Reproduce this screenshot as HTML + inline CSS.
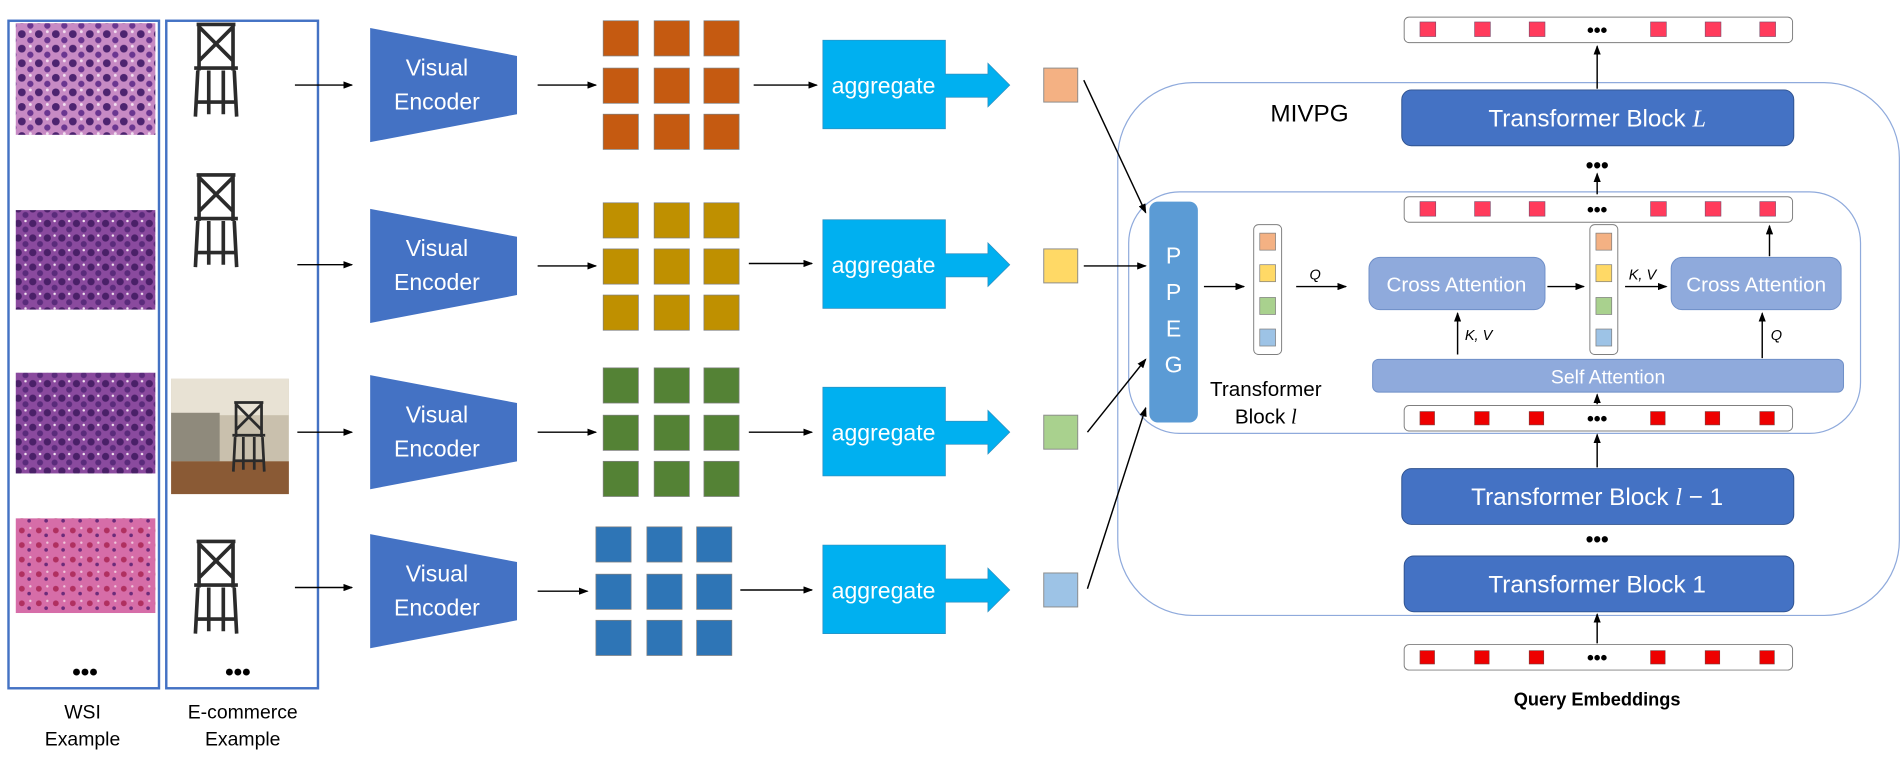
<!DOCTYPE html>
<html><head><meta charset="utf-8"><style>
html,body{margin:0;padding:0;background:#fff;}
svg{display:block;}
text{font-family:"Liberation Sans","DejaVu Sans",sans-serif;}
</style></head><body>
<svg width="1903" height="760" viewBox="0 0 1568 626" xmlns="http://www.w3.org/2000/svg">
<defs>
<marker id="a" markerWidth="8" markerHeight="6" refX="7" refY="3" orient="auto" markerUnits="userSpaceOnUse"><path d="M0,0 L8,3 L0,6 z" fill="#000"/></marker>
<pattern id="t1" width="14" height="12" patternUnits="userSpaceOnUse"><rect width="14" height="12" fill="#c78ac4"/><circle cx="4" cy="4" r="3.2" fill="#4d2470"/><circle cx="11" cy="9" r="2.6" fill="#6a3690"/><circle cx="11" cy="2" r="1.2" fill="#f2dff0"/></pattern>
<pattern id="t2" width="12" height="12" patternUnits="userSpaceOnUse"><rect width="12" height="12" fill="#8a4a9e"/><circle cx="3" cy="4" r="3" fill="#4a2068"/><circle cx="9" cy="9" r="2.5" fill="#5a2b7b"/><circle cx="9" cy="2" r="1" fill="#f4e6f2"/></pattern>
<pattern id="t3" width="14" height="12" patternUnits="userSpaceOnUse"><rect width="14" height="12" fill="#d66da8"/><circle cx="4" cy="5" r="2.4" fill="#b03060"/><circle cx="10" cy="9" r="1.5" fill="#6b2b7a"/><circle cx="11" cy="3" r="1" fill="#f0c8dc"/></pattern>
<g id="chair" fill="none" stroke="#2b2b2b" stroke-width="3">
<path d="M-16,-38 L16,-38 M-14,-38 L-14,0 M14,-38 L14,0 M-14,-36 L14,-8 M14,-36 L-14,-8 M-18,-2 L18,-2 M-15,0 L-17,38 M15,0 L17,38 M-6,0 L-6,36 M6,0 L6,36 M-16,26 L16,26"/>
</g>
</defs>

<rect x="7" y="17" width="124" height="550" fill="#fff" stroke="#4472C4" stroke-width="2"/>
<rect x="137" y="17" width="125" height="550" fill="#fff" stroke="#4472C4" stroke-width="2"/>
<rect x="13" y="19" width="115" height="92" fill="url(#t1)"/>
<rect x="13" y="173" width="115" height="82" fill="url(#t2)"/>
<rect x="13" y="307" width="115" height="83" fill="url(#t2)"/>
<rect x="13" y="427" width="115" height="78" fill="url(#t3)"/>
<text x="70" y="560" font-size="20" text-anchor="middle" font-weight="bold">•••</text>
<text x="196" y="560" font-size="20" text-anchor="middle" font-weight="bold">•••</text>
<text x="68" y="592" font-size="16" text-anchor="middle">WSI</text>
<text x="68" y="614" font-size="16" text-anchor="middle">Example</text>
<text x="200" y="592" font-size="16" text-anchor="middle">E-commerce</text>
<text x="200" y="614" font-size="16" text-anchor="middle">Example</text>
<use href="#chair" x="178" y="58"/>
<use href="#chair" x="178" y="182"/>
<rect x="141" y="312" width="97" height="95" fill="#c9c0ad"/>
<rect x="141" y="312" width="97" height="30" fill="#e8e2d4"/>
<rect x="141" y="340" width="40" height="40" fill="#8f8a7c"/>
<rect x="141" y="380" width="97" height="27" fill="#8a5a35"/>
<use href="#chair" x="205" y="360" transform="translate(205 360) scale(0.75) translate(-205 -360)"/>
<use href="#chair" x="178" y="484"/>

<g stroke="#000" stroke-width="1.2" marker-end="url(#a)">
<line x1="243" y1="70" x2="290" y2="70"/>
<line x1="245" y1="218" x2="290" y2="218"/>
<line x1="245" y1="356" x2="290" y2="356"/>
<line x1="243" y1="484" x2="290" y2="484"/>
</g>

<g id="r1">
<polygon points="305,23 426,46 426,94 305,117" fill="#4472C4"/>
<text x="360" y="62" font-size="19" fill="#fff" text-anchor="middle">Visual</text>
<text x="360" y="90" font-size="19" fill="#fff" text-anchor="middle">Encoder</text>
</g>
<use href="#r1" y="149"/>
<use href="#r1" y="286"/>
<use href="#r1" y="417"/>

<g stroke="#000" stroke-width="1.2" marker-end="url(#a)">
<line x1="443" y1="70" x2="491" y2="70"/>
<line x1="443" y1="219" x2="491" y2="219"/>
<line x1="443" y1="356" x2="491" y2="356"/>
<line x1="443" y1="487" x2="484" y2="487"/>
<line x1="621" y1="70" x2="673" y2="70"/>
<line x1="617" y1="217" x2="669" y2="217"/>
<line x1="617" y1="356" x2="669" y2="356"/>
<line x1="610" y1="486" x2="669" y2="486"/>
</g>

<g stroke="#7f7f7f" stroke-width="0.6">
<g fill="#C55A11">
<rect x="497" y="17" width="29" height="29"/><rect x="539" y="17" width="29" height="29"/><rect x="580" y="17" width="29" height="29"/>
<rect x="497" y="56" width="29" height="29"/><rect x="539" y="56" width="29" height="29"/><rect x="580" y="56" width="29" height="29"/>
<rect x="497" y="94" width="29" height="29"/><rect x="539" y="94" width="29" height="29"/><rect x="580" y="94" width="29" height="29"/>
</g>
<g fill="#BF9000">
<rect x="497" y="167" width="29" height="29"/><rect x="539" y="167" width="29" height="29"/><rect x="580" y="167" width="29" height="29"/>
<rect x="497" y="205" width="29" height="29"/><rect x="539" y="205" width="29" height="29"/><rect x="580" y="205" width="29" height="29"/>
<rect x="497" y="243" width="29" height="29"/><rect x="539" y="243" width="29" height="29"/><rect x="580" y="243" width="29" height="29"/>
</g>
<g fill="#548235">
<rect x="497" y="303" width="29" height="29"/><rect x="539" y="303" width="29" height="29"/><rect x="580" y="303" width="29" height="29"/>
<rect x="497" y="342" width="29" height="29"/><rect x="539" y="342" width="29" height="29"/><rect x="580" y="342" width="29" height="29"/>
<rect x="497" y="380" width="29" height="29"/><rect x="539" y="380" width="29" height="29"/><rect x="580" y="380" width="29" height="29"/>
</g>
<g fill="#2E75B6">
<rect x="491" y="434" width="29" height="29"/><rect x="533" y="434" width="29" height="29"/><rect x="574" y="434" width="29" height="29"/>
<rect x="491" y="473" width="29" height="29"/><rect x="533" y="473" width="29" height="29"/><rect x="574" y="473" width="29" height="29"/>
<rect x="491" y="511" width="29" height="29"/><rect x="533" y="511" width="29" height="29"/><rect x="574" y="511" width="29" height="29"/>
</g>
</g>

<g id="ag">
<path d="M678,33 L779,33 L779,61 L814,61 L814,52 L832,70 L814,88 L814,80 L779,80 L779,106 L678,106 z" fill="#00B0F0" stroke="#2e8fc0" stroke-width="0.6"/>
<text x="728" y="77" font-size="19" fill="#fff" text-anchor="middle">aggregate</text>
</g>
<use href="#ag" y="148"/>
<use href="#ag" y="286"/>
<use href="#ag" y="416"/>

<g stroke="#8c8c8c" stroke-width="0.8">
<rect x="860" y="56" width="28" height="28" fill="#F4B183"/>
<rect x="860" y="205" width="28" height="28" fill="#FFD966"/>
<rect x="860" y="342" width="28" height="28" fill="#A9D18E"/>
<rect x="860" y="472" width="28" height="28" fill="#9DC3E6"/>
</g>

<rect x="921" y="68" width="644" height="439" rx="62" fill="none" stroke="#8FAADC" stroke-width="1"/>
<rect x="930" y="158" width="603" height="199" rx="42" fill="none" stroke="#8FAADC" stroke-width="1"/>
<text x="1079" y="100" font-size="20" text-anchor="middle">MIVPG</text>

<g stroke="#000" stroke-width="1.2" marker-end="url(#a)">
<line x1="893" y1="66" x2="944" y2="175"/>
<line x1="893" y1="219" x2="944" y2="219"/>
<line x1="896" y1="356" x2="944" y2="296"/>
<line x1="896" y1="485" x2="944" y2="336"/>
</g>

<rect x="947" y="166" width="40" height="182" rx="7" fill="#5B9BD5"/>
<g font-size="19" fill="#fff" text-anchor="middle">
<text x="967" y="217">P</text><text x="967" y="247">P</text><text x="967" y="277">E</text><text x="967" y="307">G</text>
</g>

<g id="col">
<rect x="1033" y="185" width="23" height="107" rx="4" fill="#fff" stroke="#7f7f7f" stroke-width="0.8"/>
<g stroke="#7f7f7f" stroke-width="0.6">
<rect x="1038" y="192" width="13" height="14" fill="#F4B183"/>
<rect x="1038" y="218" width="13" height="14" fill="#FFD966"/>
<rect x="1038" y="245" width="13" height="14" fill="#A9D18E"/>
<rect x="1038" y="271" width="13" height="14" fill="#9DC3E6"/>
</g>
</g>
<use href="#col" x="277"/>
<text x="1043" y="326" font-size="17" text-anchor="middle">Transformer</text>
<text x="1043" y="349" font-size="17" text-anchor="middle">Block <tspan font-family="Liberation Serif" font-style="italic">l</tspan></text>

<rect x="1128" y="212" width="145" height="43" rx="9" fill="#8FAADC" stroke="#6F8FC8" stroke-width="0.8"/>
<text x="1200" y="240" font-size="17" fill="#fff" text-anchor="middle">Cross Attention</text>
<rect x="1377" y="212" width="140" height="43" rx="9" fill="#8FAADC" stroke="#6F8FC8" stroke-width="0.8"/>
<text x="1447" y="240" font-size="17" fill="#fff" text-anchor="middle">Cross Attention</text>
<rect x="1131" y="296" width="388" height="27" rx="5" fill="#8FAADC" stroke="#6F8FC8" stroke-width="0.8"/>
<text x="1325" y="316" font-size="16" fill="#fff" text-anchor="middle">Self Attention</text>

<g stroke="#000" stroke-width="1.2" marker-end="url(#a)">
<line x1="992" y1="236" x2="1025" y2="236"/>
<line x1="1068" y1="236" x2="1109" y2="236"/>
<line x1="1201" y1="292" x2="1201" y2="258"/>
<line x1="1275" y1="236" x2="1305" y2="236"/>
<line x1="1339" y1="236" x2="1373" y2="236"/>
<line x1="1452" y1="295" x2="1452" y2="258"/>
<line x1="1458" y1="211" x2="1458" y2="186"/>
<line x1="1316" y1="333" x2="1316" y2="325"/>
<line x1="1316" y1="385" x2="1316" y2="358"/>
<line x1="1316" y1="530" x2="1316" y2="506"/>
<line x1="1316" y1="160" x2="1316" y2="143"/>
<line x1="1316" y1="73" x2="1316" y2="38"/>
</g>
<g font-family="Liberation Serif" font-style="italic" font-size="12">
<text x="1079" y="230">Q</text>
<text x="1207" y="280">K, V</text>
<text x="1342" y="230">K, V</text>
<text x="1459" y="280">Q</text>
</g>

<g id="tok">
<rect x="1157" y="14" width="320" height="21" rx="4" fill="#fff" stroke="#7f7f7f" stroke-width="0.8"/>
<g fill="#FF3B5C" stroke="#7a4a6a" stroke-width="0.5">
<rect x="1170" y="18" width="13" height="12"/><rect x="1215" y="18" width="13" height="12"/><rect x="1260" y="18" width="13" height="12"/>
<rect x="1360" y="18" width="13" height="12"/><rect x="1405" y="18" width="13" height="12"/><rect x="1450" y="18" width="13" height="12"/>
</g>
<text x="1316" y="30" font-size="16" font-weight="bold" text-anchor="middle">•••</text>
</g>
<use href="#tok" y="148"/>
<g id="tok2">
<rect x="1157" y="334" width="320" height="21" rx="4" fill="#fff" stroke="#7f7f7f" stroke-width="0.8"/>
<g fill="#EE0000" stroke="#7a3a3a" stroke-width="0.5">
<rect x="1170" y="339" width="12" height="11"/><rect x="1215" y="339" width="12" height="11"/><rect x="1260" y="339" width="12" height="11"/>
<rect x="1360" y="339" width="12" height="11"/><rect x="1405" y="339" width="12" height="11"/><rect x="1450" y="339" width="12" height="11"/>
</g>
<text x="1316" y="350" font-size="16" font-weight="bold" text-anchor="middle">•••</text>
</g>
<use href="#tok2" y="197"/>
<text x="1316" y="581" font-size="15" font-weight="bold" text-anchor="middle">Query Embeddings</text>

<rect x="1155" y="74" width="323" height="46" rx="8" fill="#4472C4" stroke="#2F528F" stroke-width="0.8"/>
<text x="1316" y="104" font-size="20" fill="#fff" text-anchor="middle">Transformer Block <tspan font-family="Liberation Serif" font-style="italic">L</tspan></text>
<text x="1316" y="142" font-size="18" font-weight="bold" text-anchor="middle">•••</text>
<rect x="1155" y="386" width="323" height="46" rx="8" fill="#4472C4" stroke="#2F528F" stroke-width="0.8"/>
<text x="1316" y="416" font-size="20" fill="#fff" text-anchor="middle">Transformer Block <tspan font-family="Liberation Serif" font-style="italic">l</tspan> − 1</text>
<text x="1316" y="450" font-size="18" font-weight="bold" text-anchor="middle">•••</text>
<rect x="1157" y="458" width="321" height="46" rx="8" fill="#4472C4" stroke="#2F528F" stroke-width="0.8"/>
<text x="1316" y="488" font-size="20" fill="#fff" text-anchor="middle">Transformer Block 1</text>
</svg>
</body></html>
